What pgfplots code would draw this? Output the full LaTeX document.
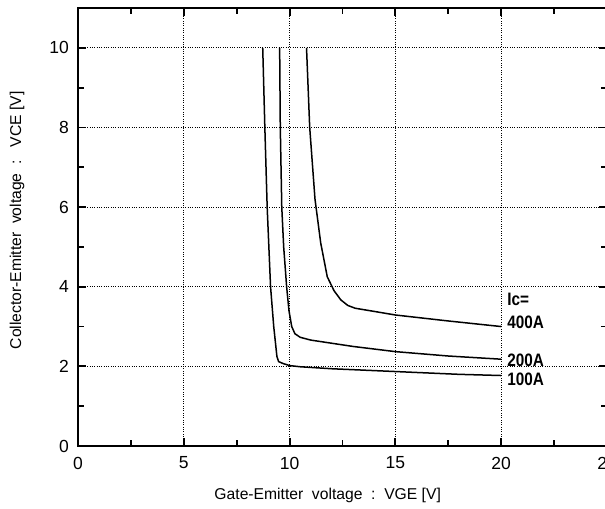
\documentclass[border=0pt]{standalone}
\usepackage{pgfplots}
\pgfplotsset{compat=1.18}
\usepackage{fontspec}
\setmainfont{Liberation Sans}
\newcommand{\clab}[1]{\scalebox{0.85}[1]{\fontsize{10.8}{12}\selectfont\bfseries #1}}
\begin{document}
\begin{tikzpicture}
\begin{axis}[
  at={(0,0)}, anchor=south west,
  scale only axis, width=317.4pt, height=262.8pt,
  xmin=0, xmax=25, ymin=0, ymax=11,
  xtick={0,5,10,15,20,25}, ytick={0,2,4,6,8,10},
  minor xtick={2.5,7.5,12.5,17.5,22.5},
  minor ytick={1,3,5,7,9},
  tick align=inside,
  major tick length=5pt, minor tick length=3.5pt,
  every tick/.style={black, line width=1.1pt},
  axis line style={line width=1.2pt},
  grid=major,
  major grid style={black, densely dotted, line width=0.5pt},
  font=\fontsize{10.5}{12}\selectfont,
  /pgf/number format/assume math mode=true,
  xticklabel style={yshift=-3pt},
  yticklabel style={xshift=-2pt},
  xlabel={Gate-Emitter\ \ voltage\ \ :\ \ VGE [V]},
  ylabel={Collector-Emitter\ \ voltage\ \ :\ \ \ VCE [V]},
  label style={font=\fontsize{9.4}{11}\selectfont},
  x label style={at={(axis description cs:0.472,-0.112)}, anchor=center},
  y label style={at={(axis description cs:-0.1153,0.515)}, anchor=center},
  clip=false,
]
\addplot[black, line width=0.9pt] coordinates {
(8.73,10) (8.83,8) (8.94,6) (9.1,4) (9.25,3) (9.4,2.25) (9.48,2.12) (9.7,2.07) (10,2.02) (10.5,1.99) (12,1.94) (15,1.87) (18,1.8) (20,1.77)};
\addplot[black, line width=0.9pt] coordinates {
(9.53,10) (9.56,8) (9.63,6) (9.72,5) (9.86,4) (9.97,3.4) (10.1,3.0) (10.25,2.82) (10.5,2.73) (11,2.66) (12,2.58) (13,2.5) (15,2.37) (17.5,2.26) (20,2.18)};
\addplot[black, line width=0.9pt] coordinates {
(10.8,10) (10.95,8) (11.2,6.2) (11.47,5.1) (11.78,4.25) (12.1,3.9) (12.42,3.67) (12.75,3.53) (13.1,3.46) (14,3.38) (15,3.29) (17.5,3.14) (20,3.0)};
\node[anchor=west, inner sep=0pt] at (axis cs:20.28,3.69) {\clab{Ic=}};
\node[anchor=west, inner sep=0pt] at (axis cs:20.28,3.10) {\clab{400A}};
\node[anchor=west, inner sep=0pt] at (axis cs:20.28,2.16) {\clab{200A}};
\node[anchor=west, inner sep=0pt] at (axis cs:20.28,1.68) {\clab{100A}};
\end{axis}
\pgfresetboundingbox
\useasboundingbox (-46.8pt,-37.2pt) rectangle (316.2pt,267.6pt);
\end{tikzpicture}
\end{document}
